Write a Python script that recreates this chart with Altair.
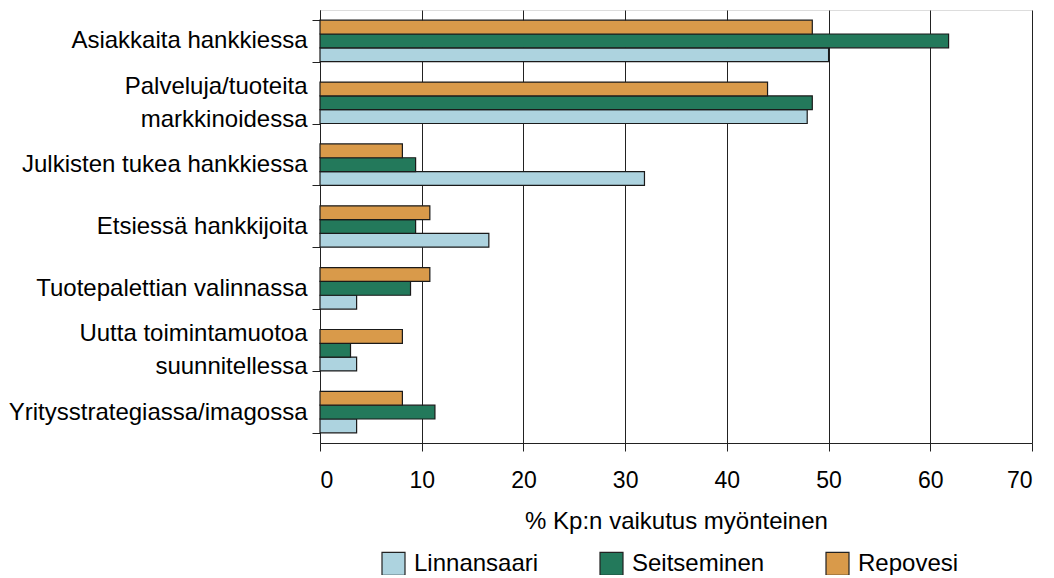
import altair as alt
import pandas as pd

categories = [
    "Asiakkaita hankkiessa",
    "Palveluja/tuoteita markkinoidessa",
    "Julkisten tukea hankkiessa",
    "Etsiessä hankkijoita",
    "Tuotepalettian valinnassa",
    "Uutta toimintamuotoa suunnitellessa",
    "Yritysstrategiassa/imagossa",
]
series = ["Linnansaari", "Seitseminen", "Repovesi"]
linnansaari = [50.0, 47.9, 31.9, 16.6, 3.6, 3.6, 3.6]
seitseminen = [61.8, 48.4, 9.4, 9.4, 8.9, 3.0, 11.3]
repovesi = [48.4, 44.0, 8.1, 10.8, 10.8, 8.1, 8.1]
colors = ["#ADD3DF", "#23795B", "#D99A4A"]

rows = []
for name, vals in zip(series, [linnansaari, seitseminen, repovesi]):
    for c, v in zip(categories, vals):
        rows.append({"cat": c, "series": name, "value": v})
df = pd.DataFrame(rows)

two_line = (
    "datum.value == 'Palveluja/tuoteita markkinoidessa' || "
    "datum.value == 'Uutta toimintamuotoa suunnitellessa'"
)
label_expr = (
    "datum.label == 'Palveluja/tuoteita markkinoidessa' ? ['Palveluja/tuoteita', 'markkinoidessa'] : "
    "datum.label == 'Uutta toimintamuotoa suunnitellessa' ? ['Uutta toimintamuotoa', 'suunnitellessa'] : datum.label"
)

FONT = "Liberation Sans"

chart = (
    alt.Chart(df)
    .mark_bar(stroke="#1a1a1a", strokeWidth=1.2)
    .encode(
        x=alt.X(
            "value:Q",
            scale=alt.Scale(domain=[0, 70], nice=False),
            axis=alt.Axis(
                values=[0, 10, 20, 30, 40, 50, 60, 70],
                title="% Kp:n vaikutus myönteinen",
                grid=True,
                gridColor="#222222",
                gridWidth=1,
                domainColor="#222222",
                tickColor="#222222",
                tickSize=8,
                labelFontSize=23,
                labelPadding=18,
                labelColor="#000000",
                labelFont=FONT,
                titleFont=FONT,
                titleFontSize=24,
                titleFontWeight="normal",
                titleColor="#000000",
                titlePadding=17,
            ),
        ),
        y=alt.Y(
            "cat:N",
            sort=categories,
            scale=alt.Scale(paddingInner=0.33, paddingOuter=0.165),
            axis=alt.Axis(
                title=None,
                tickBand="extent",
                tickSize=8,
                tickColor="#222222",
                domainColor="#222222",
                labelFontSize=24,
                labelFont=FONT,
                labelColor="#000000",
                labelPadding=5,
                labelLimit=400,
                labelLineHeight=33,
                labelExpr=label_expr,
                labelOffset={"condition": {"test": two_line, "value": -16.5}, "value": 0},
            ),
        ),
        yOffset=alt.YOffset(
            "series:N",
            sort=["Repovesi", "Seitseminen", "Linnansaari"],
            scale=alt.Scale(paddingInner=0, paddingOuter=0),
        ),
        color=alt.Color(
            "series:N",
            scale=alt.Scale(domain=series, range=colors),
            legend=alt.Legend(
                title=None,
                orient="none",
                direction="horizontal",
                legendX=61,
                legendY=541,
                symbolType="square",
                symbolSize=529,
                symbolStrokeColor="#222222",
                symbolStrokeWidth=1.2,
                symbolOpacity=1,
                labelFontSize=24,
                labelFont=FONT,
                labelColor="#000000",
                labelOffset=8,
                columnPadding=58,
                padding=0,
            ),
        ),
    )
    .properties(
        width=712,
        height=433,
        autosize=alt.AutoSizeParams(type="none"),
        padding={"top": 2, "left": 312, "right": 14, "bottom": 132},
    )
    .configure_view(stroke="#222222", strokeWidth=1)
    .configure(background="white")
)

chart.save("out.html", embed_options={"renderer": "svg", "actions": False})
